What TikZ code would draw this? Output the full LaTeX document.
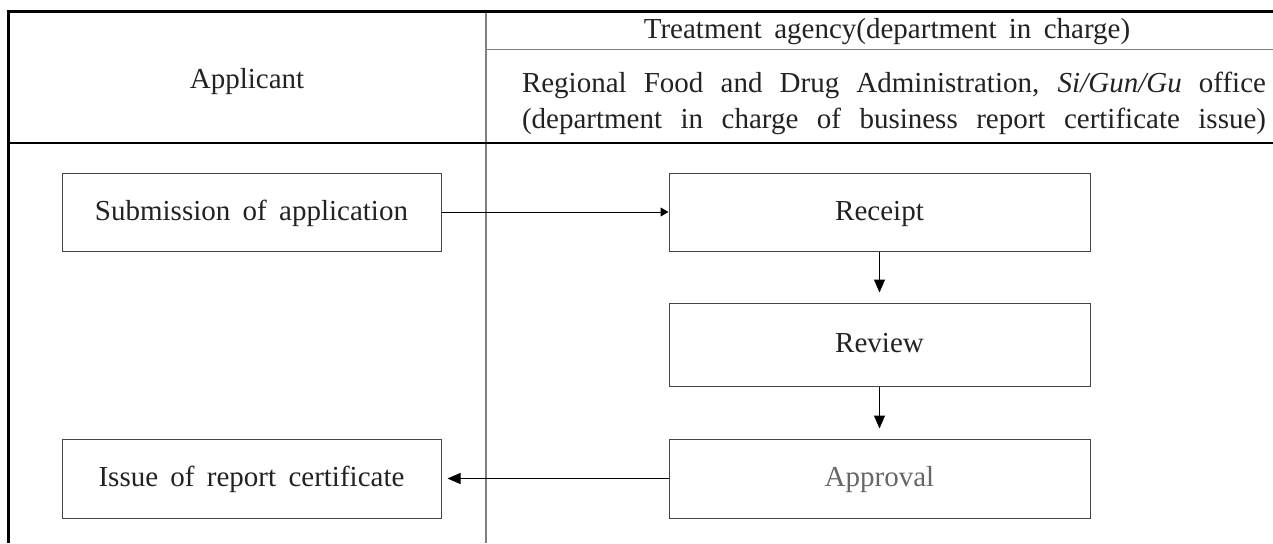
\documentclass[tikz,border=0pt]{standalone}
\usepackage{fontspec}
\setmainfont{Liberation Serif}[WordSpace=1.7]
\usetikzlibrary{arrows.meta}
\definecolor{txt}{HTML}{222222}
\definecolor{boxline}{HTML}{444444}
\definecolor{grid}{HTML}{808080}
\begin{document}
\begin{tikzpicture}[x=1pt,y=-1pt,
  every node/.style={font=\fontsize{29}{36}\selectfont, text=txt},
  hdr/.style={anchor=base, inner sep=0pt},
  flowbox/.style={draw=boxline, line width=1pt, inner sep=0pt, align=center,
    text height=20pt, text depth=4pt},
  leftbox/.style={flowbox, minimum width=379pt, minimum height=78pt},
  rightbox/.style={flowbox, minimum width=421pt, minimum height=78pt},
  arr/.style={-{Triangle[length=13pt,width=11pt]}, line width=1pt, draw=black},
  smallarr/.style={-{Triangle[length=8pt,width=9pt]}, line width=1pt, draw=black},
  frame/.style={line width=2.6pt, draw=black, line join=miter},
  gridline/.style={line width=1.3pt, draw=grid},
  rule/.style={line width=1.3pt, draw=black}
]
\useasboundingbox (0,0) rectangle (1273,543);
% table lines
\draw[gridline] (486,11) -- (486,543);
\draw[gridline] (486,49.5) -- (1273,49.5);
\draw[rule] (8,143) -- (1273,143);
\draw[frame] (8.5,543) -- (8.5,11.5) -- (1273,11.5);
% header texts
\node[hdr] (applicant) at (247,88) {Applicant};
\node[hdr] (agency) at (887,39) {Treatment agency(department in charge)};
\node[hdr] (regional) at (894,92) {\makebox[744pt][s]{Regional Food and Drug Administration, \textit{Si/Gun/Gu} office}};
\node[hdr] (dept) at (894,128) {\makebox[744pt][s]{(department in charge of business report certificate issue)}};
% flow boxes
\node[leftbox] (sub) at (251.5,212) {Submission of application};
\node[rightbox] (rec) at (879.5,212) {Receipt};
\node[rightbox, minimum height=83pt] (rev) at (879.5,344.5) {Review};
\node[rightbox, minimum height=79pt, text=black!60] (app) at (879.5,478.5) {Approval};
\node[leftbox, minimum height=79pt] (iss) at (251.5,478.5) {Issue of report certificate};
% connectors
\draw[smallarr] (sub.east) -- (rec.west);
\draw[arr, shorten >=10pt] (rec.south) -- (rev.north);
\draw[arr, shorten >=10pt] (rev.south) -- (app.north);
\draw[arr, shorten >=6pt] (app.west) -- (iss.east);
\end{tikzpicture}
\end{document}
